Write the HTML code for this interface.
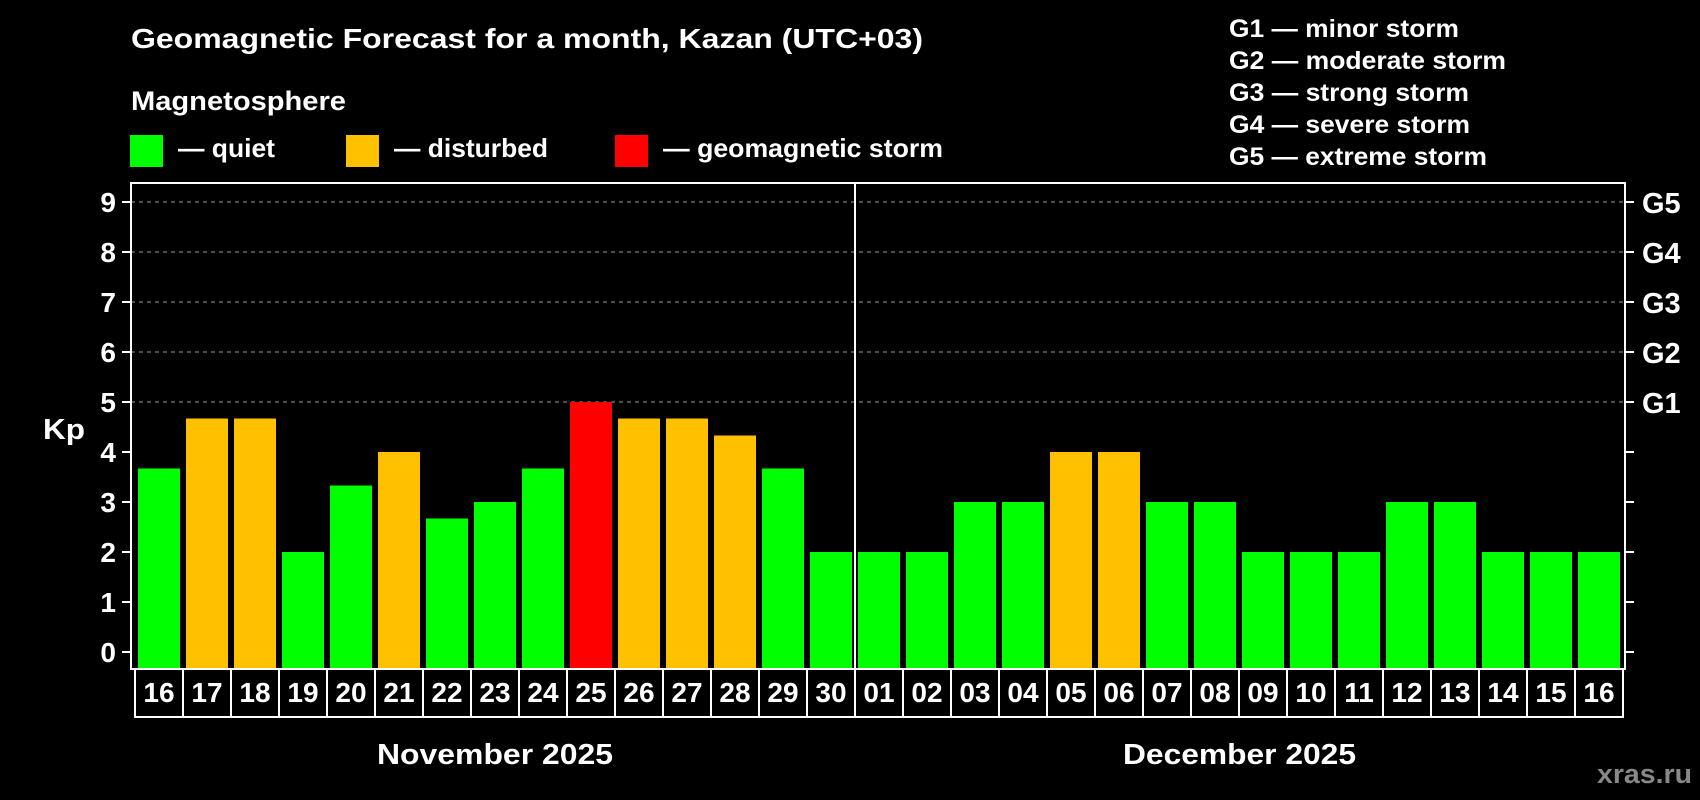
<!DOCTYPE html>
<html><head><meta charset="utf-8"><style>
html,body{margin:0;padding:0;background:#000;}
svg{display:block;font-family:"Liberation Sans",Arial,sans-serif;font-weight:bold;}
</style></head><body>
<svg id="chart" width="1700" height="800" viewBox="0 0 1700 800">
<rect width="1700" height="800" fill="#000"/>
<text x="131" y="48" fill="#fff" font-size="28" textLength="792" lengthAdjust="spacingAndGlyphs">Geomagnetic Forecast for a month, Kazan (UTC+03)</text>
<text x="131" y="110" fill="#fff" font-size="27" textLength="215" lengthAdjust="spacingAndGlyphs">Magnetosphere</text>
<g><rect x="130" y="135" width="33" height="32" fill="#00ff00"/><text x="178" y="157" fill="#fff" font-size="26" textLength="97" lengthAdjust="spacingAndGlyphs">— quiet</text></g>
<g><rect x="346" y="135" width="33" height="32" fill="#ffc000"/><text x="394" y="157" fill="#fff" font-size="26" textLength="154" lengthAdjust="spacingAndGlyphs">— disturbed</text></g>
<g><rect x="615" y="135" width="33" height="32" fill="#ff0000"/><text x="663" y="157" fill="#fff" font-size="26" textLength="280" lengthAdjust="spacingAndGlyphs">— geomagnetic storm</text></g>
<g fill="#fff" font-size="25" lengthAdjust="spacingAndGlyphs">
<text x="1229" y="37" textLength="230" lengthAdjust="spacingAndGlyphs">G1 — minor storm</text>
<text x="1229" y="69" textLength="277" lengthAdjust="spacingAndGlyphs">G2 — moderate storm</text>
<text x="1229" y="101" textLength="240" lengthAdjust="spacingAndGlyphs">G3 — strong storm</text>
<text x="1229" y="133" textLength="241" lengthAdjust="spacingAndGlyphs">G4 — severe storm</text>
<text x="1229" y="165" textLength="258" lengthAdjust="spacingAndGlyphs">G5 — extreme storm</text>
</g>
<text x="43" y="439" fill="#fff" font-size="29" textLength="42" lengthAdjust="spacingAndGlyphs">Kp</text>
<g id="grid"></g><g id="bars"></g><g id="axes"></g>
<text x="377" y="764" fill="#fff" font-size="29" textLength="236" lengthAdjust="spacingAndGlyphs">November 2025</text>
<text x="1123" y="764" fill="#fff" font-size="29" textLength="233" lengthAdjust="spacingAndGlyphs">December 2025</text>
<text x="1597" y="783" fill="#888" font-size="27" textLength="95" lengthAdjust="spacingAndGlyphs">xras.ru</text>
</svg>
<script>
const days = ["16","17","18","19","20","21","22","23","24","25","26","27","28","29","30","01","02","03","04","05","06","07","08","09","10","11","12","13","14","15","16"];
const kpValues = [3.67,4.67,4.67,2,3.33,4,2.67,3,3.67,5,4.67,4.67,4.33,3.67,2,2,2,3,3,4,4,3,3,2,2,2,3,3,2,2,2];
const yTicks = ["0","1","2","3","4","5","6","7","8","9"];
const gLabels = ["","","","","","G1","G2","G3","G4","G5"];
const NS="http://www.w3.org/2000/svg";
const L=131,R=1625,T=183,B=669,Y0=652,PU=50,SLOT=48,BAR0=138,BW=42;
const y=v=>Y0-v*PU;
const x=i=>BAR0+i*SLOT;
function mk(tag,attrs,parent){const e=document.createElementNS(NS,tag);for(const k in attrs)e.setAttribute(k,attrs[k]);parent.appendChild(e);return e;}
const grid=document.getElementById('grid'),bars=document.getElementById('bars'),axes=document.getElementById('axes');
yTicks.forEach((t,i)=>{
  const v=+t;
  if(v>=5){const g=mk('line',{x1:L,x2:R,y1:y(v),y2:y(v),stroke:'#999','stroke-width':1,'stroke-dasharray':'4,4'},grid);
    
    }
  const tk=mk('line',{x1:L-9,x2:L,y1:y(v),y2:y(v),stroke:'#fff','stroke-width':2},axes);
  
  
  const tr=mk('line',{x1:R,x2:R+9,y1:y(v),y2:y(v),stroke:'#fff','stroke-width':2},axes);
  
  
  const lb=mk('text',{x:L-15,y:y(v)+10,fill:'#fff','font-size':28,'text-anchor':'end'},axes);lb.textContent=t;
  
  
  if(gLabels[i]){const gl=mk('text',{x:1642,y:y(v)+11,fill:'#fff','font-size':29},axes);gl.textContent=gLabels[i];
    
    }
});
kpValues.forEach((v,i)=>{
  const c=v>=5?'#ff0000':(v>=4?'#ffc000':'#00ff00');
  const b=mk('rect',{x:x(i),y:y(v),width:BW,height:B-1-y(v),fill:c},bars);
  
  
  const cell=mk('rect',{x:x(i)-3,y:669,width:SLOT,height:48,fill:'none',stroke:'#fff','stroke-width':2},axes);
  
  
  const dt=mk('text',{x:x(i)-3+SLOT/2,y:702,fill:'#fff','font-size':28,'text-anchor':'middle'},axes);dt.textContent=days[i];
  
  
});
const frame=mk('rect',{x:L,y:T,width:R-L,height:B-T,fill:'none',stroke:'#fff','stroke-width':2},axes);


const sep=mk('line',{x1:x(15)-3,x2:x(15)-3,y1:T,y2:B,stroke:'#fff','stroke-width':2},axes);


</script>
</body></html>
